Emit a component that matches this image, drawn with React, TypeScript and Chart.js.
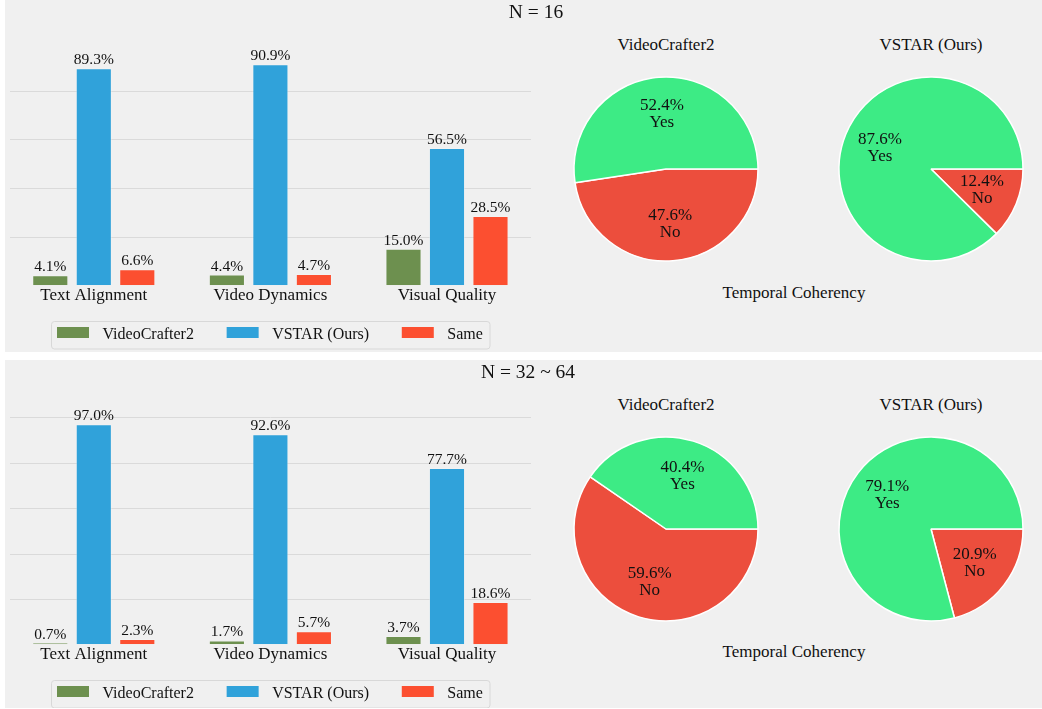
import React, { useEffect, useRef } from 'react';
import { Chart, registerables } from 'chart.js';
Chart.register(...registerables);

const FONT = '"Liberation Serif", "Times New Roman", serif';

// ---- data ----
const categories = ['Text Alignment', 'Video Dynamics', 'Visual Quality'];
const seriesNames = ['VideoCrafter2', 'VSTAR (Ours)', 'Same'];

const n16VideoCrafter2 = [4.1, 4.4, 15.0];
const n16Vstar = [89.3, 90.9, 56.5];
const n16Same = [6.6, 4.7, 28.5];

const n32VideoCrafter2 = [0.7, 1.7, 3.7];
const n32Vstar = [97.0, 92.6, 77.7];
const n32Same = [2.3, 5.7, 18.6];

const pieModels = ['VideoCrafter2', 'VSTAR (Ours)'];
const n16Yes = [52.4, 87.6];
const n16No = [47.6, 12.4];
const n32Yes = [40.4, 79.1];
const n32No = [59.6, 20.9];

const panelTitles = ['N = 16', 'N = 32 ~ 64'];
const pieGroupTitle = 'Temporal Coherency';

// ---- styles ----
const barColors = ['#6d904f', '#30a2da', '#fc4f30'];
const pieGreen = '#3deb85';
const pieRed = '#ec4e3d';

const gridPlugin = {
  id: 'insetGrid',
  beforeDatasetsDraw(chart: any) {
    const ctx = chart.ctx;
    const { chartArea } = chart;
    const y = chart.scales.y;
    ctx.save();
    ctx.strokeStyle = '#dadada';
    ctx.lineWidth = 1;
    y.ticks.forEach((t: any) => {
      if (t.value === 0) return;
      const py = Math.round(y.getPixelForValue(t.value)) + 0.5;
      ctx.beginPath();
      ctx.moveTo(chartArea.left + 4.5, py);
      ctx.lineTo(chartArea.right - 4.3, py);
      ctx.stroke();
    });
    ctx.restore();
  },
};

const barValuePlugin = {
  id: 'barValues',
  afterDatasetsDraw(chart: any) {
    const ctx = chart.ctx;
    ctx.save();
    ctx.font = `15.5px ${FONT}`;
    ctx.fillStyle = '#111';
    ctx.textAlign = 'center';
    ctx.textBaseline = 'alphabetic';
    chart.data.datasets.forEach((ds: any, i: number) => {
      const meta = chart.getDatasetMeta(i);
      meta.data.forEach((bar: any, j: number) => {
        const v = ds.data[j] as number;
        ctx.fillText(`${v.toFixed(1)}%`, bar.x, bar.y - 4);
      });
    });
    ctx.restore();
  },
};

const frameLegendPlugin = {
  id: 'frameLegend',
  afterDraw(chart: any) {
    const ctx = chart.ctx;
    const { chartArea } = chart;
    ctx.save();
    ctx.font = `16px ${FONT}`;
    const patchW = 32, patchH = 11, gap = 13.5, spacing = 32.7, padL = 6, padR = 6.7;
    const items = chart.data.datasets.map((ds: any) => ({
      label: ds.label,
      color: ds.backgroundColor,
      tw: ctx.measureText(ds.label).width,
    }));
    const total =
      padL + padR +
      items.reduce((a: number, it: any) => a + patchW + gap + it.tw, 0) +
      spacing * (items.length - 1);
    const cx = (chartArea.left + chartArea.right) / 2;
    const left = Math.round(cx - total / 2);
    const top = Math.round(chartArea.bottom + 35.5);
    const h = 27.5;
    ctx.beginPath();
    ctx.roundRect(left + 0.5, top + 0.5, total, h, 3);
    ctx.fillStyle = '#f0f0f0';
    ctx.fill();
    ctx.strokeStyle = '#d8d8d8';
    ctx.lineWidth = 1;
    ctx.stroke();
    let x = left + padL;
    items.forEach((it: any) => {
      ctx.fillStyle = it.color;
      ctx.fillRect(x, top + 6, patchW, patchH);
      ctx.fillStyle = '#111';
      ctx.textBaseline = 'alphabetic';
      ctx.textAlign = 'left';
      ctx.fillText(it.label, x + patchW + gap, top + 17.5);
      x += patchW + gap + it.tw + spacing;
    });
    ctx.restore();
  },
};

const pieLabelPlugin = {
  id: 'pieLabels',
  afterDatasetsDraw(chart: any) {
    const ctx = chart.ctx;
    const meta = chart.getDatasetMeta(0);
    const ds = chart.data.datasets[0];
    ctx.save();
    ctx.font = `17px ${FONT}`;
    ctx.fillStyle = '#111';
    ctx.textAlign = 'center';
    ctx.textBaseline = 'middle';
    meta.data.forEach((arc: any, i: number) => {
      const { x, y, startAngle, endAngle, outerRadius } = arc.getProps(
        ['x', 'y', 'startAngle', 'endAngle', 'outerRadius'],
        true
      );
      const mid = (startAngle + endAngle) / 2;
      const r = outerRadius * 0.6;
      const px = x + Math.cos(mid) * r;
      const py = y + Math.sin(mid) * r;
      ctx.fillText(`${(ds.data[i] as number).toFixed(1)}%`, px, py - 8.5);
      ctx.fillText(chart.data.labels[i], px, py + 8.5);
    });
    ctx.restore();
  },
};

function BarChart({ values, width, height, axisHeight }: { values: number[][]; width: number; height: number; axisHeight: number }) {
  const ref = useRef<HTMLCanvasElement>(null);
  useEffect(() => {
    const all = values.flat();
    const yMax = Math.max(...all) * 1.05;
    const chart = new Chart(ref.current!, {
      type: 'bar',
      data: {
        labels: categories,
        datasets: seriesNames.map((n, i) => ({
          label: n,
          data: values[i],
          backgroundColor: barColors[i],
          borderColor: 'rgba(245,245,245,0.45)',
          borderWidth: 1,
          categoryPercentage: 0.739,
          barPercentage: 0.83,
        })),
      },
      options: {
        animation: false,
        responsive: false,
        maintainAspectRatio: false,
        layout: { padding: { left: 0.5, right: 4.7, top: 53.3, bottom: 0 } },
        plugins: { legend: { display: false }, tooltip: { enabled: false } },
        scales: {
          x: {
            grid: { display: false, drawTicks: false },
            border: { display: false },
            ticks: { color: '#111', font: { family: FONT, size: 17 }, padding: 0 },
            afterFit: (s: any) => { s.height = axisHeight; },
          },
          y: {
            min: 0,
            max: yMax,
            grid: { display: false, drawTicks: false },
            border: { display: false },
            ticks: { display: false, stepSize: 20, includeBounds: false },
            afterFit: (s: any) => { s.width = 0; },
          },
        },
      } as any,
      plugins: [gridPlugin, barValuePlugin, frameLegendPlugin],
    });
    return () => chart.destroy();
  }, []);
  return <canvas ref={ref} width={width} height={height} style={{ position: 'absolute', left: 0, top: 0 }} />;
}

function PieChart({ yes, no, left, top }: { yes: number; no: number; left: number; top: number }) {
  const ref = useRef<HTMLCanvasElement>(null);
  useEffect(() => {
    const chart = new Chart(ref.current!, {
      type: 'pie',
      data: {
        labels: ['No', 'Yes'],
        datasets: [
          {
            data: [no, yes],
            backgroundColor: [pieRed, pieGreen],
            borderColor: '#ffffff',
            borderWidth: 1.5,
            radius: 92,
          } as any,
        ],
      },
      options: {
        animation: false,
        responsive: false,
        rotation: 90,
        layout: { padding: 0 },
        plugins: { legend: { display: false }, tooltip: { enabled: false } },
      } as any,
      plugins: [pieLabelPlugin],
    });
    return () => chart.destroy();
  }, []);
  return <canvas ref={ref} width={200} height={200} style={{ position: 'absolute', left, top }} />;
}

function Label({ x, baseline, size, children }: { x: number; baseline: number; size: number; children: React.ReactNode }) {
  return (
    <div
      style={{
        position: 'absolute',
        left: x,
        top: baseline - 0.8375 * size,
        transform: 'translateX(-50%)',
        whiteSpace: 'nowrap',
        fontSize: size,
        lineHeight: `${size}px`,
        fontFamily: FONT,
        color: '#111',
      }}
    >
      {children}
    </div>
  );
}

function Panel({ top, height, title, titleX, values, yes, no, axisHeight, tcBaseline }: any) {
  const pieCenters = [661, 926];
  return (
    <div style={{ position: 'absolute', left: 5, top, width: 1037, height, background: '#f0f0f0' }}>
      <BarChart values={values} width={535} height={height} axisHeight={axisHeight} />
      {pieModels.map((m, i) => (
        <React.Fragment key={m}>
          <PieChart yes={yes[i]} no={no[i]} left={pieCenters[i] - 100} top={69} />
          <Label x={pieCenters[i]} baseline={50} size={17}>{m}</Label>
        </React.Fragment>
      ))}
      <Label x={titleX} baseline={18} size={19.5}>{title}</Label>
      <Label x={789} baseline={tcBaseline} size={17}>{pieGroupTitle}</Label>
    </div>
  );
}

export default function App() {
  return (
    <div style={{ position: 'absolute', left: 0, top: 0, width: 1042, height: 709, background: '#ffffff' }}>
      <Panel
        top={0}
        height={352}
        title={panelTitles[0]}
        titleX={531}
        values={[n16VideoCrafter2, n16Vstar, n16Same]}
        yes={n16Yes}
        no={n16No}
        axisHeight={66.7}
        tcBaseline={298}
      />
      <Panel
        top={360}
        height={348}
        title={panelTitles[1]}
        titleX={523}
        values={[n32VideoCrafter2, n32Vstar, n32Same]}
        yes={n32Yes}
        no={n32No}
        axisHeight={63.7}
        tcBaseline={297}
      />
    </div>
  );
}
